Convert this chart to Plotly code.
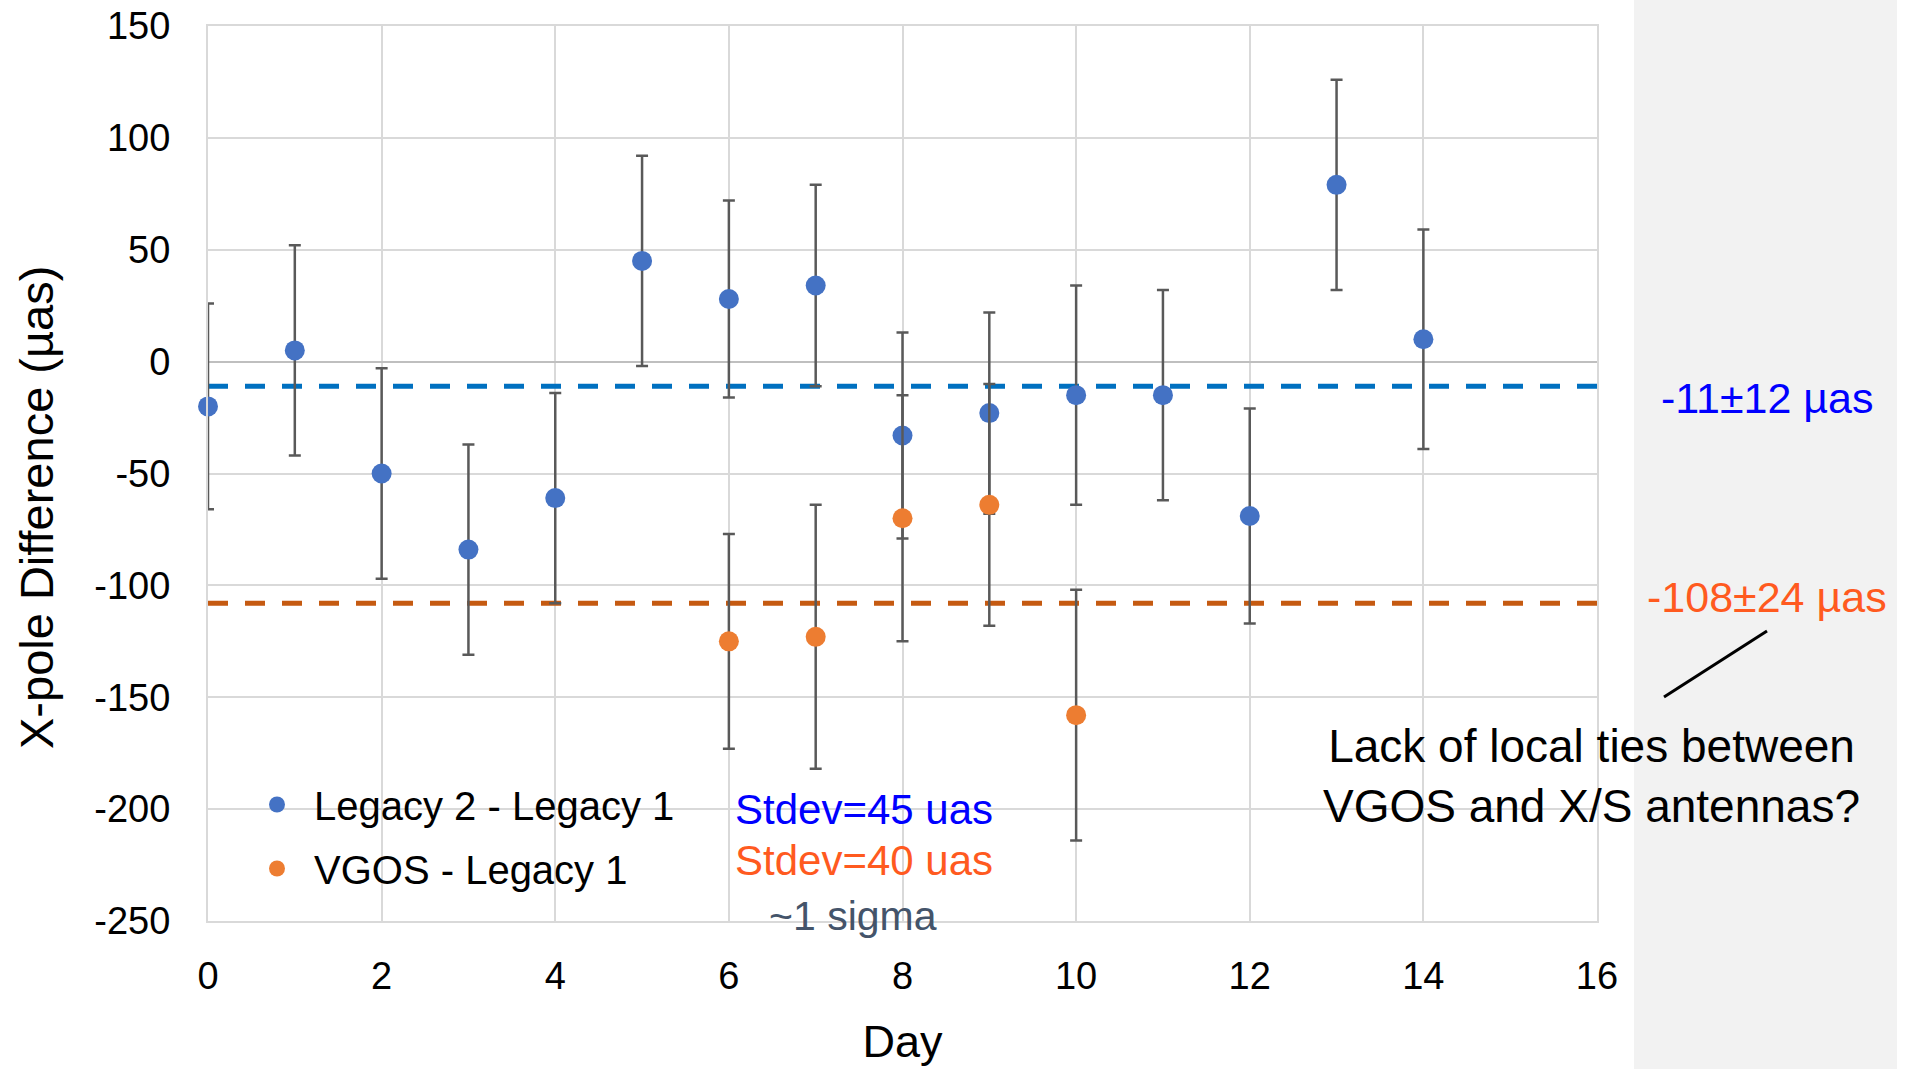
import plotly.graph_objects as go

# ---- data ----
days_legacy = [0, 1, 2, 3, 4, 5, 6, 7, 8, 9, 10, 11, 12, 13, 14]
legacy_diff = [-20, 5, -50, -84, -61, 45, 28, 34, -33, -23, -15, -15, -69, 79, 10]
legacy_err = [46, 47, 47, 47, 47, 47, 44, 45, 46, 45, 49, 47, 48, 47, 49]

days_vgos = [6, 7, 8, 9, 10]
vgos_diff = [-125, -123, -70, -64, -158]
vgos_err = [48, 59, 55, 54, 56]

mean_days = [0, 16]
mean_legacy = -11
mean_vgos = -108

x_ticks = [0, 2, 4, 6, 8, 10, 12, 14, 16]
y_ticks = [-250, -200, -150, -100, -50, 0, 50, 100, 150]
y_ticktext = ["-250", "-200", "-150", "-100", "-50", "0", "50", "100", "150"]

FONT = "Liberation Sans, Arial, sans-serif"

fig = go.Figure()

fig.add_trace(go.Scatter(
    x=mean_days, y=[mean_legacy] * len(mean_days), mode="lines",
    line=dict(color="#0070C0", width=5, dash="20px,17px"),
    showlegend=False, hoverinfo="skip"))
fig.add_trace(go.Scatter(
    x=mean_days, y=[mean_vgos] * len(mean_days), mode="lines",
    line=dict(color="#C55A11", width=5, dash="20px,17px"),
    showlegend=False, hoverinfo="skip"))

fig.add_trace(go.Scatter(
    x=days_legacy, y=legacy_diff, mode="markers", name="Legacy 2 - Legacy 1",
    legendgroup="a",
    marker=dict(color="#4472C4", size=20),
    error_y=dict(type="data", array=legacy_err, visible=True,
                 color="#595959", thickness=2.5, width=6),
    cliponaxis=False))
fig.add_trace(go.Scatter(
    x=days_vgos, y=vgos_diff, mode="markers", name="VGOS - Legacy 1",
    legendgroup="b",
    marker=dict(color="#ED7D31", size=20),
    error_y=dict(type="data", array=vgos_err, visible=True,
                 color="#595959", thickness=2.5, width=6),
    cliponaxis=False))

L, R, T, B = 208, 314, 26, 148
W, H = 1911, 1069
pw, ph = W - L - R, H - T - B


def px(x):
    return (x - L) / pw


def py(y):
    return (H - B - y) / ph


fig.update_layout(
    width=W, height=H,
    margin=dict(l=L, r=R, t=T, b=B, autoexpand=False),
    paper_bgcolor="white", plot_bgcolor="white",
    font=dict(family=FONT, color="black"),
    showlegend=True,
    legend=dict(x=px(240), y=py(772), xanchor="left", yanchor="top",
                font=dict(size=40, color="black"), bgcolor="rgba(0,0,0,0)",
                itemsizing="trace", itemwidth=64, tracegroupgap=9),
    xaxis=dict(range=[0, 16], tickvals=x_ticks, showgrid=True, automargin=False,
               gridcolor="#D9D9D9", gridwidth=2, zeroline=False,
               showline=True, linecolor="#D9D9D9", linewidth=2, mirror=True,
               tickfont=dict(size=38, color="black"), ticklabelstandoff=20,
               title=dict(text="Day", font=dict(size=45, color="black"), standoff=30)),
    yaxis=dict(range=[-250, 150], tickvals=y_ticks, ticktext=y_ticktext, showgrid=True,
               automargin=False,
               gridcolor="#D9D9D9", gridwidth=2, zeroline=True,
               zerolinecolor="#BFBFBF", zerolinewidth=2,
               showline=True, linecolor="#D9D9D9", linewidth=2, mirror=True,
               tickfont=dict(size=38, color="black"), ticklabelstandoff=28),
)

# grey side panel
fig.add_shape(type="rect", xref="paper", yref="paper",
              x0=px(1634), x1=px(1897), y0=py(1069), y1=py(0),
              fillcolor="#F2F2F2", line=dict(width=0), layer="below")

# pointer line
fig.add_shape(type="line", xref="paper", yref="paper",
              x0=px(1767), y0=py(631), x1=px(1664), y1=py(697),
              line=dict(color="black", width=3))

annos = [
    dict(text="X-pole Difference (µas)", x=px(36), y=py(508), size=47, color="black", angle=-90),
    dict(text="-11±12 µas", x=px(1767), y=py(398), size=43, color="#0000FF"),
    dict(text="-108±24 µas", x=px(1767), y=py(597), size=43, color="#FF5A1F"),
    dict(text="Lack of local ties between<br>VGOS and X/S antennas?", x=px(1591), y=py(776),
         size=46, color="black"),
    dict(text="Stdev=45 uas", x=px(864), y=py(809), size=42, color="#0000FF"),
    dict(text="Stdev=40 uas", x=px(864), y=py(860), size=42, color="#FF5A1F"),
    dict(text="~1 sigma", x=px(853), y=py(916), size=41, color="#44546A"),
]
for a in annos:
    fig.add_annotation(text=a["text"], x=a["x"], y=a["y"], xref="paper", yref="paper",
                       xanchor="center", yanchor="middle", showarrow=False,
                       textangle=a.get("angle", 0),
                       font=dict(size=a["size"], color=a["color"], family=FONT))

fig.write_html("out.html", config={"displayModeBar": False},
               post_script="document.body.style.margin='0';")
